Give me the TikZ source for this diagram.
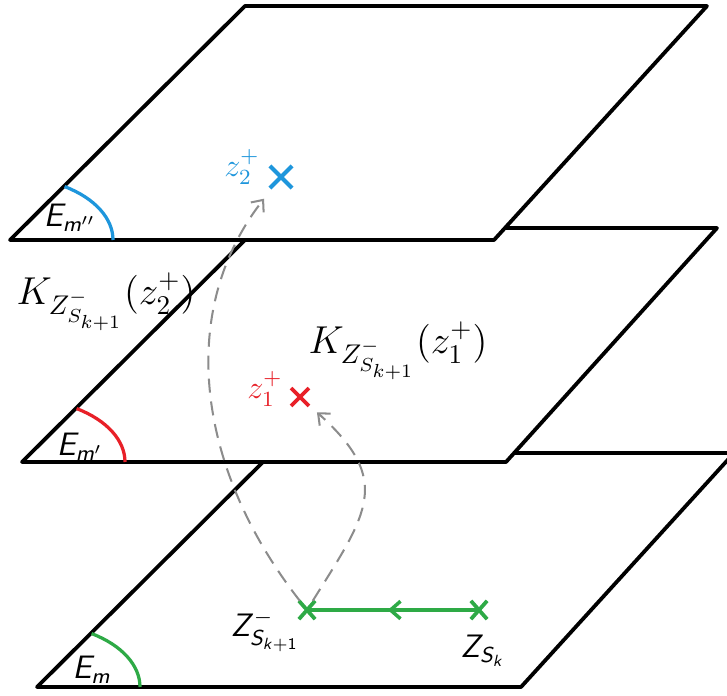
\documentclass[tikz,border=0pt]{standalone}
\usepackage{amsmath}
\usetikzlibrary{arrows.meta,shapes.misc,decorations.markings}
\DeclareMathAlphabet{\mathsfit}{OT1}{cmss}{m}{sl}
\definecolor{zblue}{RGB}{30,150,220}
\definecolor{zred}{RGB}{232,32,40}
\definecolor{zgreen}{RGB}{46,170,70}
\definecolor{jumpgray}{RGB}{140,140,140}

\begin{document}
\begin{tikzpicture}[x=0.37pt, y=0.37pt,
    plane/.style={line width=1.4pt, line join=round, fill=white},
    anglearc/.style={line width=1.2pt},
    crossmark/.style={cross out, draw, inner sep=0pt},
    jump/.style={dash pattern=on 5.2pt off 3.3pt, jumpgray, line width=0.75pt,
      -{Straight Barb[length=3.5pt,width=6pt]}},
    sflabel/.style={font=\fontsize{11.5}{13}\selectfont},
    klabel/.style={font=\fontsize{14.5}{16}\selectfont},
    zlabel/.style={font=\fontsize{11.5}{13}\selectfont, inner sep=1pt}]
    \clip (0,0) rectangle (727,695);

    % Plano inferior (E_m)
    \filldraw[plane] (37,8) -- ++(484,0) -- ++(213,234) -- ++(-462,0) -- cycle;
    \draw[anglearc, zgreen] (37,8) ++(103,0) arc[start angle=0, end angle=58, x radius=103, y radius=63];
    \node[sflabel] (em) at (92,25) {$\mathsfit{E}_{\mathsfit{m}}$};

    % Camino en Z: de Z_{S_k} a Z^-_{S_{k+1}}
    \node[crossmark, zgreen, line width=1.4pt, minimum width=4.6pt, minimum height=5.4pt] (zs) at (307,85) {};
    \node[crossmark, zgreen, line width=1.4pt, minimum width=4.6pt, minimum height=5.4pt] (zk) at (479,85) {};
    \draw[zgreen, line width=1.3pt, postaction={decorate},
      decoration={markings, mark=at position 0.53 with {\arrow{Straight Barb[length=3.7pt,width=6.5pt]}}}]
      (zk.center) -- (zs.center);
    \node[sflabel] (zslab) at (265,64) {$\mathsfit{Z}^{-}_{\mathsfit{S}_{\mathsfit{k}\mathsf{+1}}}$};
    \node[sflabel] (zklab) at (483,44) {$\mathsfit{Z}_{\mathsfit{S}_{\mathsfit{k}}}$};

    % Plano intermedio (E_m')
    \filldraw[plane] (22,233) -- ++(484,0) -- ++(211,234) -- ++(-460,0) -- cycle;
    \draw[anglearc, zred] (22,233) ++(103,0) arc[start angle=0, end angle=58, x radius=103, y radius=63];
    \node[sflabel] (emp) at (80,248) {$\mathsfit{E}_{\mathsfit{m}'}$};
    \node[crossmark, zred, line width=1.4pt, minimum size=5.2pt] (zr) at (300,298) {};
    \node[zlabel, zred] (zrlab) at (265,306) {$z_1^+$};
    \node[klabel] (kone) at (398,344) {$K_{Z^-_{S_{k+1}}}(z_1^+)$};
    \node[klabel] (ktwo) at (106,393) {$K_{Z^-_{S_{k+1}}}(z_2^+)$};

    % Plano superior (E_m'')
    \filldraw[plane] (10,455) -- ++(484,0) -- ++(213,234) -- ++(-462,0) -- cycle;
    \draw[anglearc, zblue] (10,455) ++(103,0) arc[start angle=0, end angle=58, x radius=103, y radius=63];
    \node[sflabel] (empp) at (70,477) {$\mathsfit{E}_{\mathsfit{m}''}$};
    \node[crossmark, zblue, line width=1.5pt, minimum size=6.7pt] (zb) at (281,518) {};
    \node[zlabel, zblue] (zblab) at (242,528) {$z_2^+$};

    % Saltos entre planos
    \draw[jump, shorten >=5pt] (zs) .. controls +(128:180) and +(232:170) .. (zb);
    \draw[jump, shorten >=4pt] (zs) .. controls +(58:115) and +(-42:125) .. (zr);
\end{tikzpicture}
\end{document}
